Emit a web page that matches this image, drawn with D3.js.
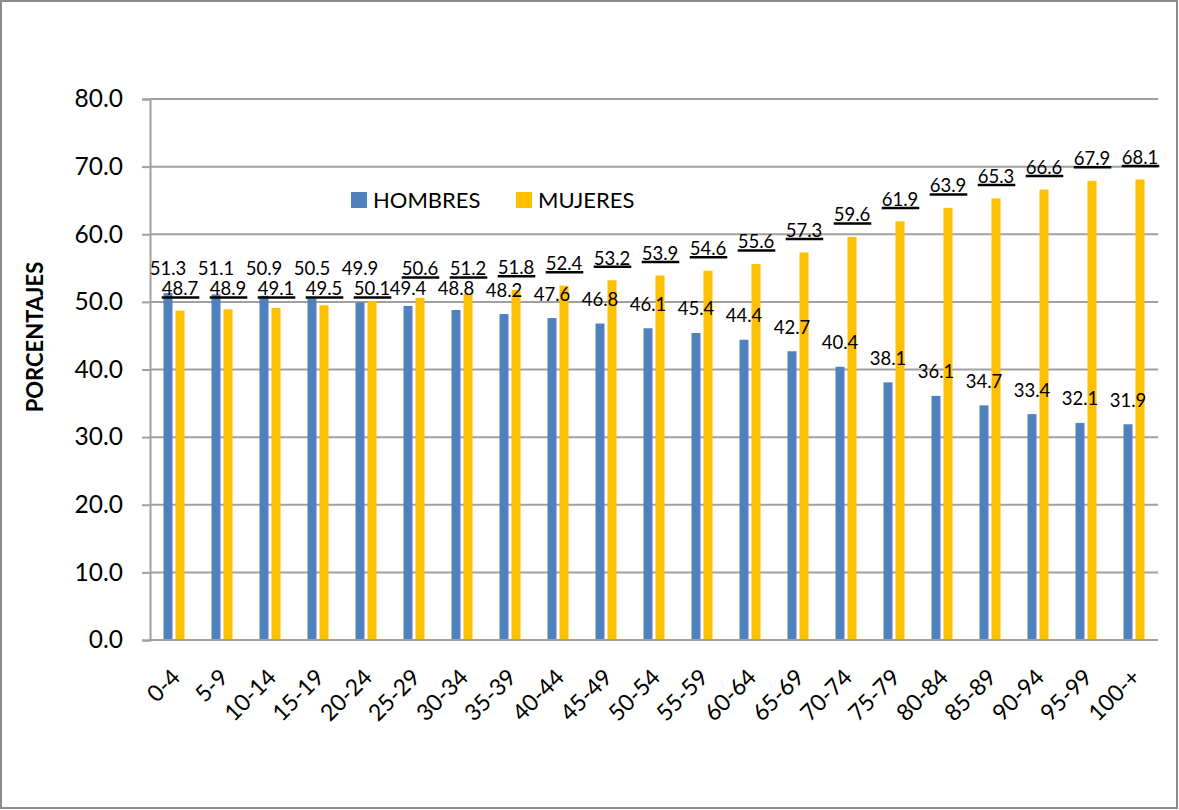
<!DOCTYPE html>
<html>
<head>
<meta charset="utf-8">
<script src="https://cdn.jsdelivr.net/npm/d3@7"></script>
<style>
  html, body { margin: 0; padding: 0; background: #fff; }
  svg { display: block; }
  text { font-family: Lato, "Open Sans", sans-serif; fill: #000; }
</style>
</head>
<body>
<svg id="chart" width="1179" height="810"></svg>
<script>
const categories = ["0-4","5-9","10-14","15-19","20-24","25-29","30-34","35-39","40-44","45-49","50-54","55-59","60-64","65-69","70-74","75-79","80-84","85-89","90-94","95-99","100-+"];
const hombres = [51.3,51.1,50.9,50.5,49.9,49.4,48.8,48.2,47.6,46.8,46.1,45.4,44.4,42.7,40.4,38.1,36.1,34.7,33.4,32.1,31.9];
const mujeres = [48.7,48.9,49.1,49.5,50.1,50.6,51.2,51.8,52.4,53.2,53.9,54.6,55.6,57.3,59.6,61.9,63.9,65.3,66.6,67.9,68.1];
const yTicks = [0,10,20,30,40,50,60,70,80];
const seriesNames = ["HOMBRES","MUJERES"];
const colors = ["#4F81BD","#FFC000"];
const yTitle = "PORCENTAJES";

const W = 1179, H = 810;
const plot = {left: 150, right: 1158, top: 99, bottom: 640};
const svg = d3.select("#chart");

// outer frame
svg.append("rect").attr("x", 1).attr("y", 1).attr("width", W - 3).attr("height", H - 3)
  .attr("fill", "#fff").attr("stroke", "#8c8c8c").attr("stroke-width", 2);

const x0 = d3.scaleBand().domain(categories).range([plot.left, plot.right]).padding(0);
const groupW = 21;
const x1 = d3.scaleBand().domain([0, 1])
  .range([(x0.bandwidth() - groupW) / 2, (x0.bandwidth() + groupW) / 2])
  .paddingInner(0.25).paddingOuter(0);
const y = d3.scaleLinear().domain([0, 80]).range([plot.bottom, plot.top]);

// gridlines
svg.append("g").selectAll("line").data(yTicks.filter(d => d > 0)).join("line")
  .attr("x1", plot.left).attr("x2", plot.right)
  .attr("y1", d => y(d)).attr("y2", d => y(d))
  .attr("stroke", "#a0a0a0").attr("stroke-width", 2);

// y axis
const yAxis = d3.axisLeft(y).tickValues(yTicks).tickFormat(d3.format(".1f")).tickSize(8).tickPadding(19);
const gy = svg.append("g").attr("transform", `translate(${plot.left},0)`).call(yAxis);
gy.select(".domain").attr("stroke", "#a0a0a0").attr("stroke-width", 2);
gy.selectAll(".tick line").attr("stroke", "#a0a0a0").attr("stroke-width", 2);
gy.selectAll(".tick text").attr("font-size", 24.5).attr("font-family", "Lato").attr("fill", "#000");

// bars
const series = [hombres, mujeres];
series.forEach((vals, s) => {
  svg.append("g").selectAll("rect").data(vals).join("rect")
    .attr("x", (d, i) => x0(categories[i]) + x1(s))
    .attr("width", x1.bandwidth())
    .attr("y", d => y(d))
    .attr("height", d => y(0) - y(d))
    .attr("fill", colors[s]);
});

// x axis baseline
svg.append("line").attr("x1", plot.left).attr("x2", plot.right)
  .attr("y1", y(0)).attr("y2", y(0)).attr("stroke", "#a0a0a0").attr("stroke-width", 2);

// x labels
svg.append("g").selectAll("text").data(categories).join("text")
  .attr("transform", d => `translate(${x0(d) + x0.bandwidth() / 2 + 2},${y(0) + 33}) rotate(-45)`)
  .attr("text-anchor", "end").attr("dy", "0.35em")
  .attr("font-size", 23).text(d => d);

// value labels with simple collision avoidance
const offM = 24, offF = 22, minSep = 20;
const labelG = svg.append("g");
categories.forEach((c, i) => {
  let cm = y(hombres[i]) - offM;
  let cf = y(mujeres[i]) - offF;
  if (Math.abs(cm - cf) < minSep) {
    const mid = (cm + cf) / 2;
    if (cm <= cf) { cm = mid - minSep / 2; cf = mid + minSep / 2; }
    else { cf = mid - minSep / 2; cm = mid + minSep / 2; }
  }
  const xm = x0(c) + x1(0) + x1.bandwidth() / 2;
  const xf = x0(c) + x1(1) + x1.bandwidth() / 2;
  labelG.append("text").attr("x", xm).attr("y", cm).attr("dy", "0.35em")
    .attr("text-anchor", "middle").attr("font-size", 18.5).text(d3.format(".1f")(hombres[i]));
  const t = labelG.append("text").attr("x", xf).attr("y", cf).attr("dy", "0.35em")
    .attr("text-anchor", "middle").attr("font-size", 18.5).text(d3.format(".1f")(mujeres[i]));
  const w = t.node().getComputedTextLength();
  labelG.append("line").attr("x1", xf - w / 2).attr("x2", xf + w / 2 + 1)
    .attr("y1", cf + 8.5).attr("y2", cf + 8.5).attr("stroke", "#000").attr("stroke-width", 2.5);
});

// legend
const legend = [{x: 351}, {x: 516}];
legend.forEach((l, s) => {
  svg.append("rect").attr("x", l.x).attr("y", 192).attr("width", 16).attr("height", 16).attr("fill", colors[s]);
  svg.append("text").attr("x", l.x + 22).attr("y", 200).attr("dy", "0.36em")
    .attr("font-size", 22).text(seriesNames[s]);
});

// y title
svg.append("text").attr("transform", "translate(35,337) rotate(-90)")
  .attr("text-anchor", "middle").attr("dy", "0.36em")
  .attr("font-size", 22).attr("font-weight", "bold").text(yTitle);
</script>
</body>
</html>
